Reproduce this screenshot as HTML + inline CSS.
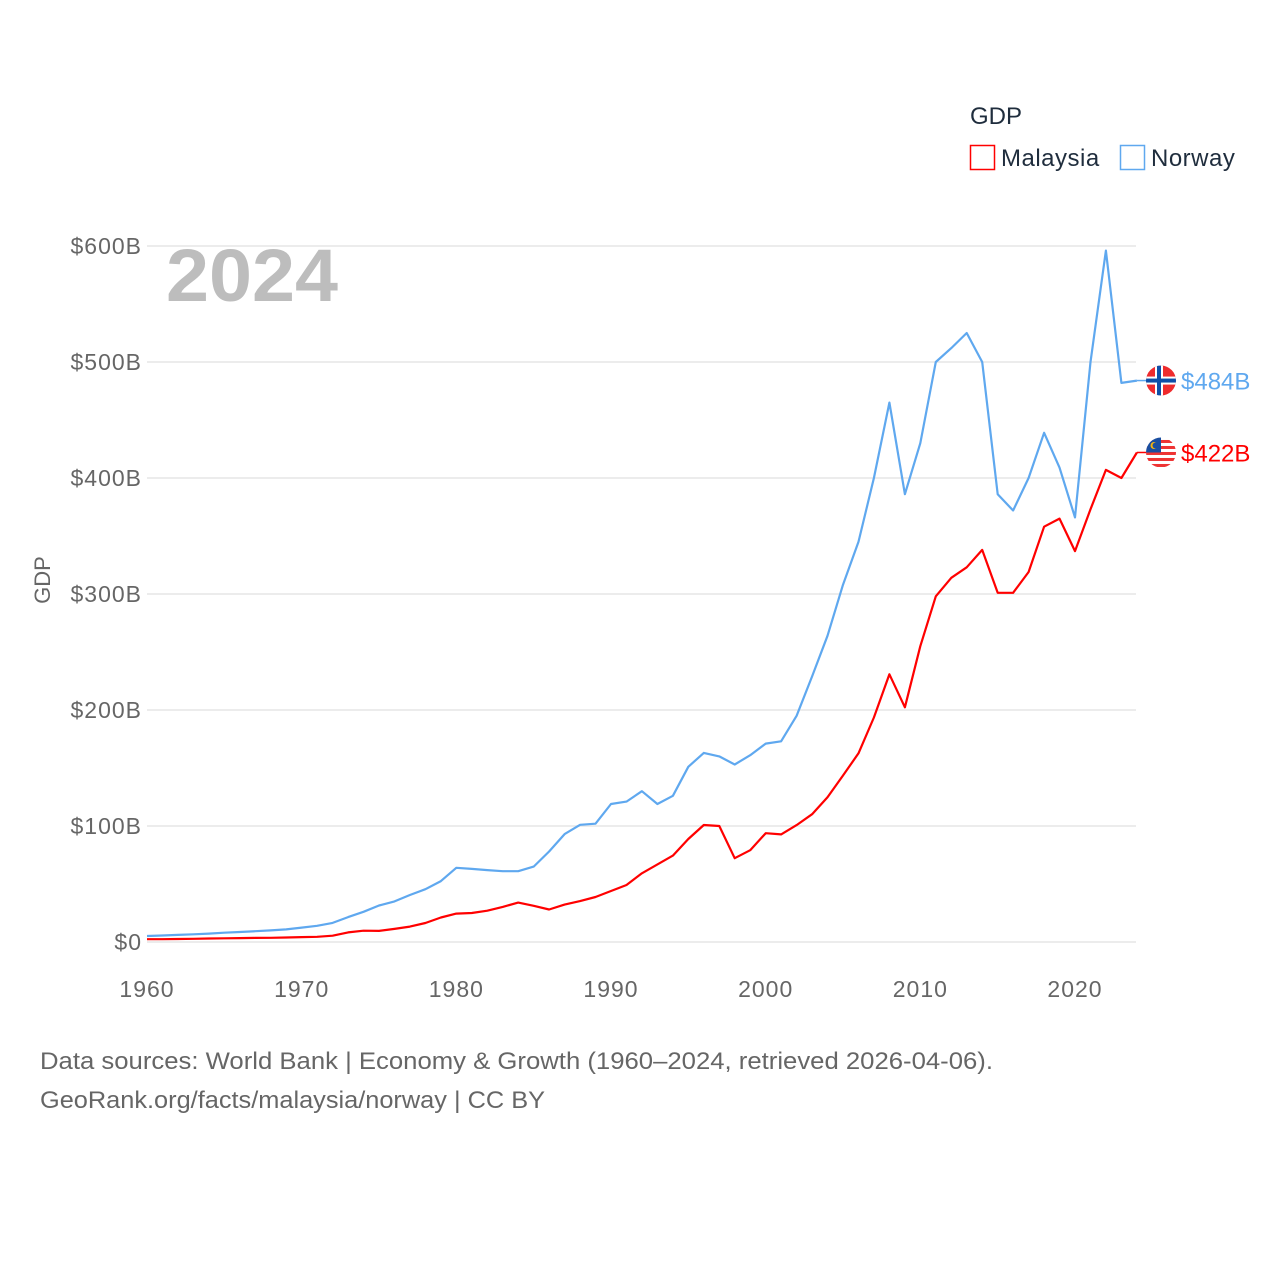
<!DOCTYPE html>
<html><head><meta charset="utf-8"><style>
html,body{margin:0;padding:0;background:#fff;}
body{width:1280px;height:1280px;overflow:hidden;font-family:"Liberation Sans",sans-serif;}
</style></head><body>
<svg id="chart" width="1280" height="1280" xmlns="http://www.w3.org/2000/svg" style="position:absolute;left:0;top:0;font-family:'Liberation Sans',sans-serif">
  <defs>
    <clipPath id="clipN"><circle id="cN" cx="1161" cy="0" r="15"/></clipPath>
    <clipPath id="clipM"><circle id="cM" cx="1161" cy="0" r="15"/></clipPath>
  </defs>
  <text x="970" y="124" font-size="24" fill="#1f2d3d">GDP</text>
  <rect x="970.5" y="145.5" width="24" height="24" fill="none" stroke="#ff0000" stroke-width="1.5"/>
  <text x="1001" y="166" font-size="24" letter-spacing="0.5" fill="#1f2d3d">Malaysia</text>
  <rect x="1120.5" y="145.5" width="24" height="24" fill="none" stroke="#5fa8ef" stroke-width="1.5"/>
  <text x="1151" y="166" font-size="24" letter-spacing="0.5" fill="#1f2d3d">Norway</text>
  <text x="166" y="301" font-size="74" font-weight="bold" fill="#bdbdbd" textLength="172" lengthAdjust="spacingAndGlyphs">2024</text>
  <text transform="translate(50,580) rotate(-90)" text-anchor="middle" font-size="22" fill="#666">GDP</text>
  <g id="grid"></g><g id="lines"></g><g id="ends"></g>
  <text x="40" y="1069" font-size="24" fill="#666" textLength="953" lengthAdjust="spacingAndGlyphs">Data sources: World Bank | Economy &amp; Growth (1960–2024, retrieved 2026-04-06).</text>
  <text x="40" y="1108" font-size="24" fill="#666" textLength="505" lengthAdjust="spacingAndGlyphs">GeoRank.org/facts/malaysia/norway | CC BY</text>
</svg>
<script>
const years = Array.from({length:65},(_,i)=>1960+i);
const yTicks = [0,100,200,300,400,500,600];
const yTickLabels = ["$0","$100B","$200B","$300B","$400B","$500B","$600B"];
const xTicks = [1960,1970,1980,1990,2000,2010,2020];
const norway = [5.2,5.6,6.1,6.6,7.2,8.0,8.6,9.3,10.0,10.9,12.4,14.0,16.5,21.5,26.0,31.5,35.0,40.5,45.5,52.5,64,63,62,61,61,65,78,93,101,102,119,121,130,119,126,151,163,160,153,161,171,173,195,229,264,308,345,400,465,386,430,500,512,525,500,386,372,400,439,409,366,500,596,482,484];
const malaysia = [2.4,2.4,2.6,2.8,3.0,3.2,3.4,3.5,3.6,3.9,4.2,4.5,5.4,8.3,9.7,9.6,11.3,13.3,16.4,21.1,24.5,25.0,27.0,30.3,34.0,31.2,28.0,32.2,35.3,38.8,44.0,49.1,59.2,66.9,74.5,88.8,100.9,100.0,72.2,79.1,93.8,92.8,100.8,110.2,124.7,143.5,162.7,193.5,230.8,202.3,255.0,298,314,323,338,301,301,319,358,365,337,373,407,400,422];
const NS="http://www.w3.org/2000/svg";
const X=y=>147+(y-1960)*(1075-147)/60;
const Y=v=>942-v*(942-246)/600;
function mk(t,a,p){const e=document.createElementNS(NS,t);for(const k in a)e.setAttribute(k,a[k]);p.appendChild(e);return e;}
const grid=document.getElementById('grid');
yTicks.forEach((v,i)=>{
  const l=mk('line',{x1:147,x2:1136,y1:Y(v),y2:Y(v),stroke:'#e6e6e6','stroke-width':1.5},grid);
  
  
  const t=mk('text',{x:142,y:Y(v)+8,'text-anchor':'end','font-size':23,'letter-spacing':1,fill:'#666'},grid);
  t.textContent=yTickLabels[i];
  
  
});
xTicks.forEach(yr=>{
  const t=mk('text',{x:X(yr),y:997,'text-anchor':'middle','font-size':23,'letter-spacing':1,fill:'#666'},grid);
  t.textContent=yr;
  
  
});
const lines=document.getElementById('lines'), ends=document.getElementById('ends');
[[norway,'#5fa8ef','norway'],[malaysia,'#ff0000','malaysia']].forEach(([d,c,n])=>{
  const pts=d.map((v,i)=>X(years[i]).toFixed(1)+','+Y(v).toFixed(1)).join(' ');
  const p=mk('polyline',{points:pts,fill:'none',stroke:c,'stroke-width':2.2,'stroke-linejoin':'round'},lines);
  
  
  const last=d[d.length-1], yy=Y(last);
  mk('line',{x1:X(2024),x2:1148,y1:yy,y2:yy,stroke:c,'stroke-width':1.5},ends);
  const cx=1161;
  document.getElementById(n==='norway'?'cN':'cM').setAttribute('cy',yy);
  const g=mk('g',{'clip-path':n==='norway'?'url(#clipN)':'url(#clipM)'},ends);
  
  
  if(n==='norway'){
    mk('rect',{x:cx-15,y:yy-15,width:30,height:30,fill:'#ef2b2d'},g);
    mk('rect',{x:cx-15,y:yy-4,width:30,height:8,fill:'#fff'},g);
    mk('rect',{x:cx-6,y:yy-15,width:8,height:30,fill:'#fff'},g);
    mk('rect',{x:cx-15,y:yy-2,width:30,height:4,fill:'#0e4fa8'},g);
    mk('rect',{x:cx-4,y:yy-15,width:4,height:30,fill:'#0e4fa8'},g);
  } else {
    mk('rect',{x:cx-15,y:yy-15,width:30,height:30,fill:'#fff'},g);
    [-11,-5,1,7,13].forEach(o=>mk('rect',{x:cx-15,y:yy+o-1.5,width:30,height:3,fill:'#e33'},g));
    mk('rect',{x:cx-15,y:yy-15,width:15,height:15,fill:'#1a4ea0'},g);
    mk('circle',{cx:cx-7,cy:yy-7,r:3.5,fill:'#f6b40e'},g);
    mk('circle',{cx:cx-5.5,cy:yy-7,r:3,fill:'#1a4ea0'},g);
  }
  const t=mk('text',{x:1181,y:yy+9,'font-size':24,fill:c},ends);
  t.textContent='$'+Math.round(last)+'B';
  
  
});
</script>
</body></html>
